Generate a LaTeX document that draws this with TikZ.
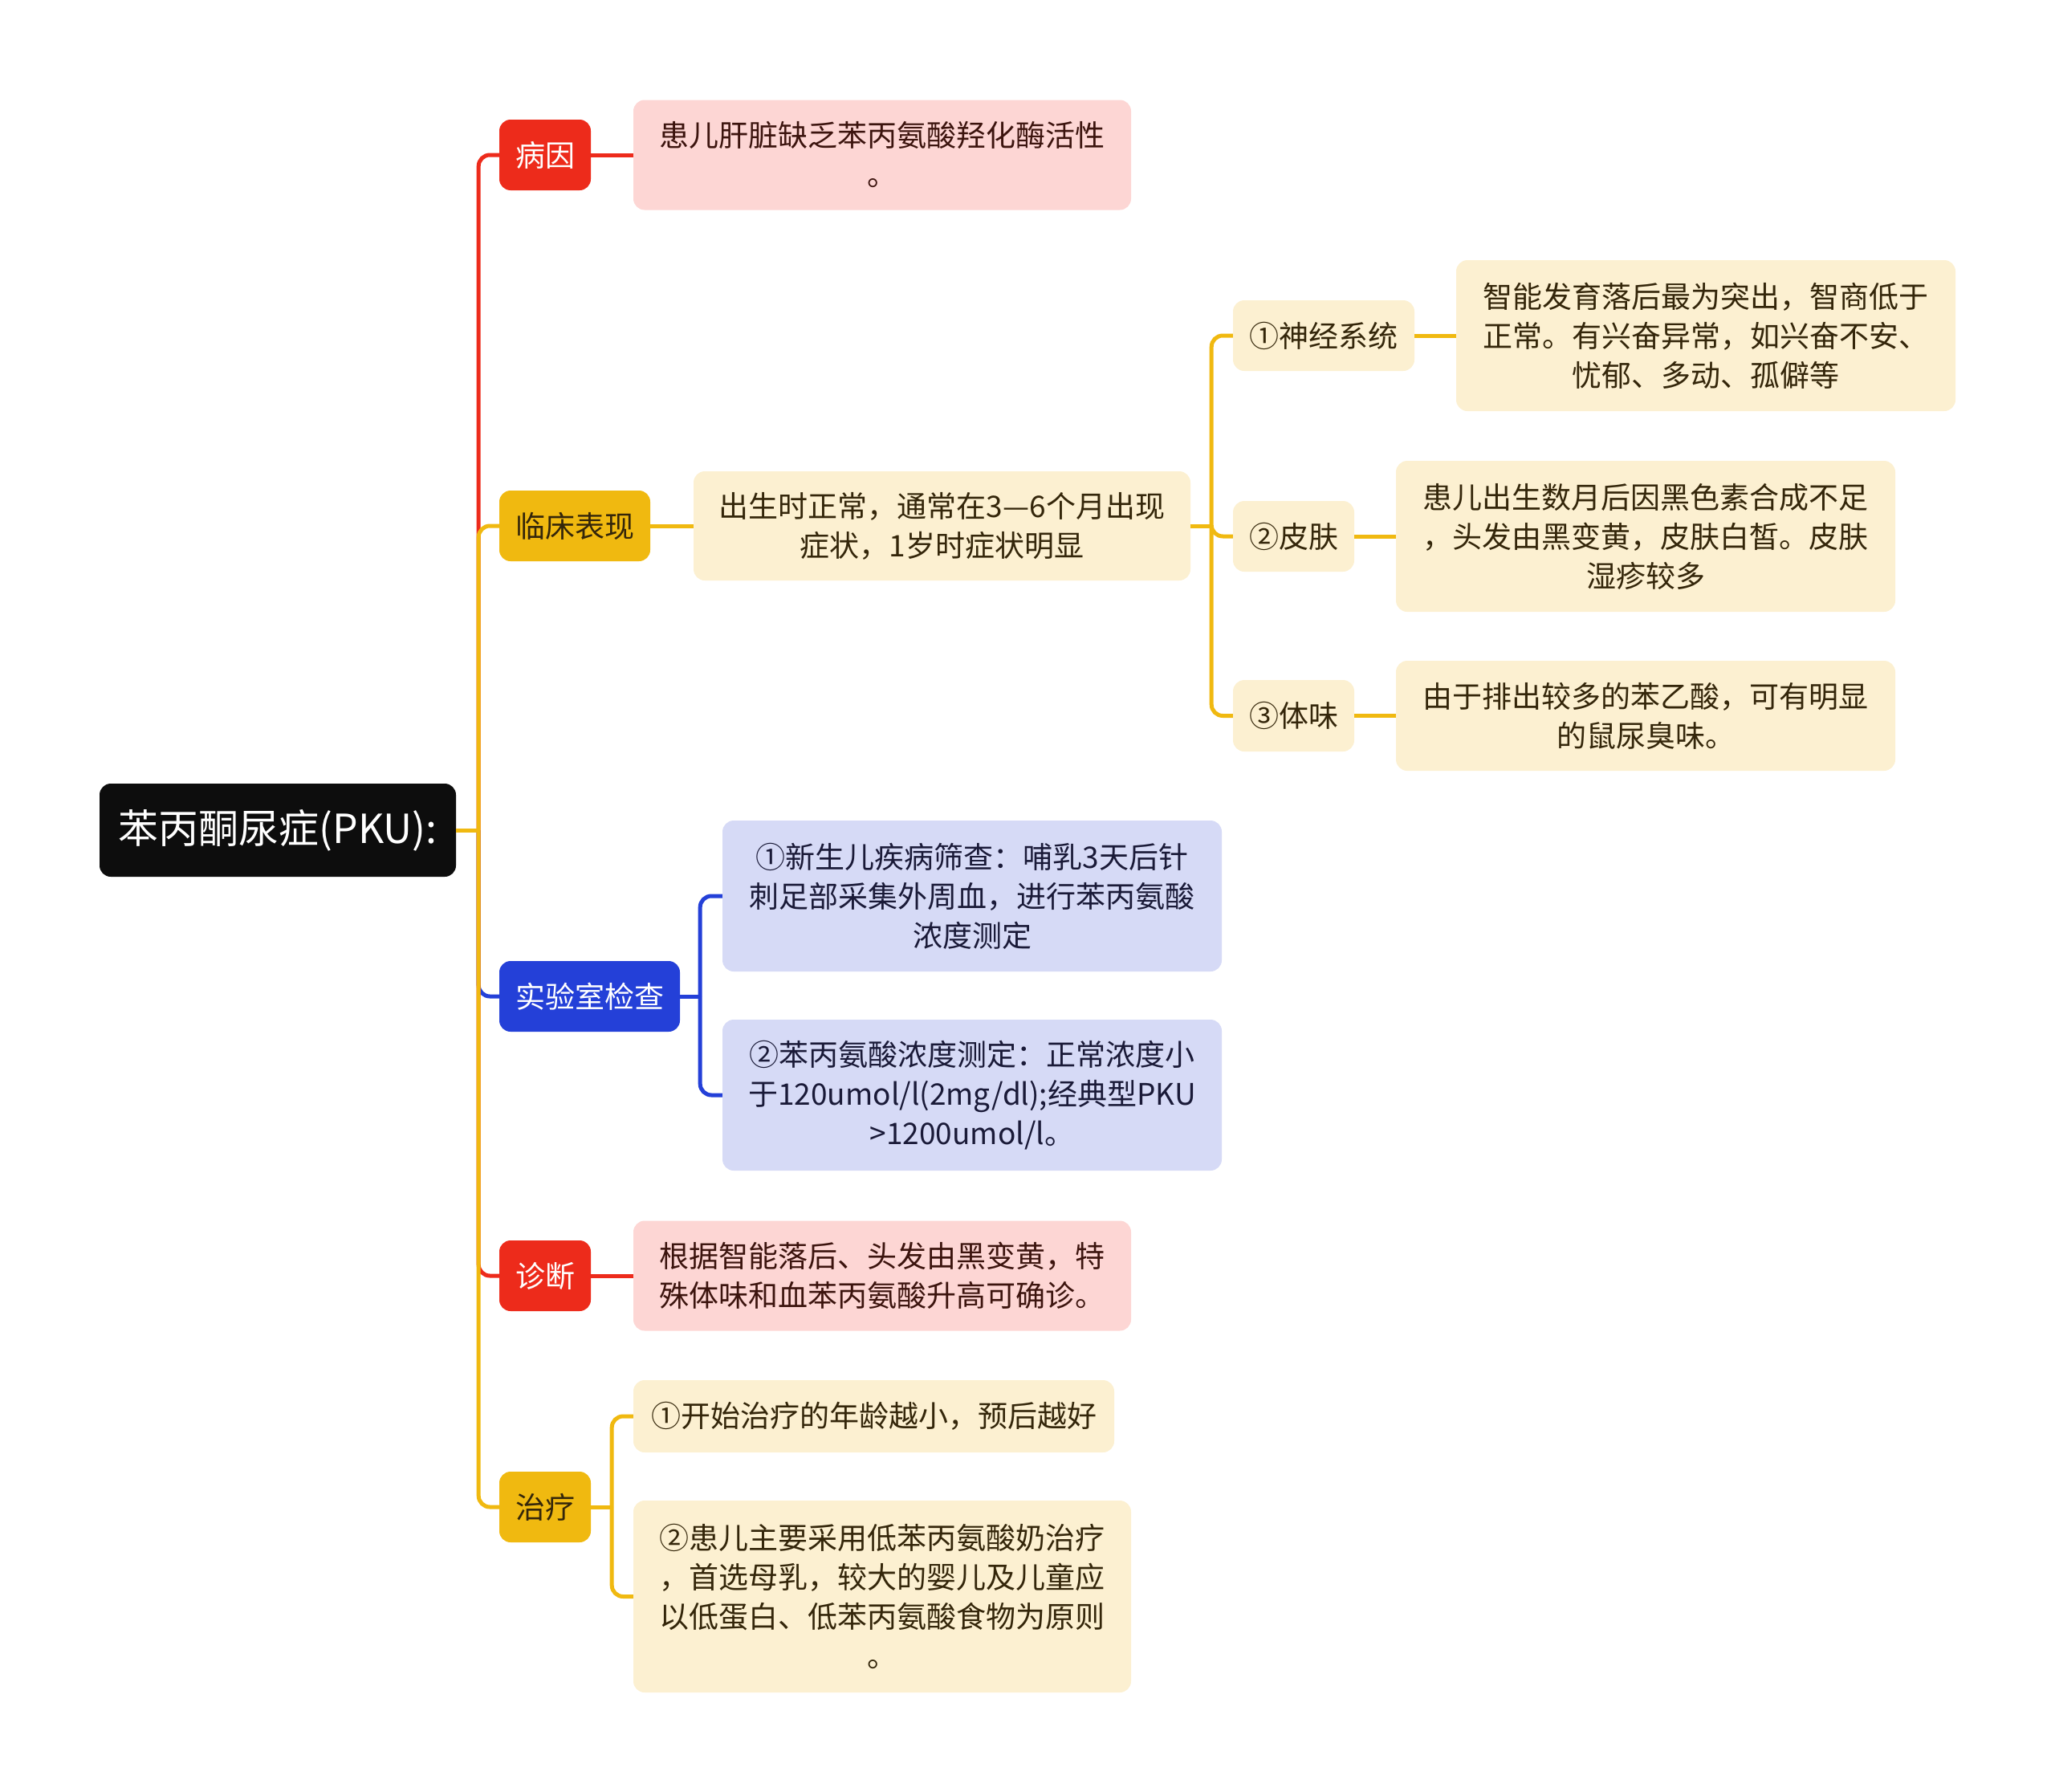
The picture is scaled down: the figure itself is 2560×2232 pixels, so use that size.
\documentclass[tikz,border=0pt]{standalone}
\usepackage{fontspec}
\setmainfont{Noto Sans CJK SC}
\definecolor{mmred}{RGB}{237,43,27}
\definecolor{mmyellow}{RGB}{240,185,16}
\definecolor{mmblue}{RGB}{36,64,216}
\definecolor{pinkfill}{RGB}{253,214,212}
\definecolor{creamfill}{RGB}{252,240,209}
\definecolor{lavfill}{RGB}{214,218,246}
\definecolor{rootblack}{RGB}{13,13,13}
\definecolor{txtbrown}{RGB}{52,38,10}
\definecolor{txtred}{RGB}{60,20,14}
\definecolor{txtnavy}{RGB}{26,26,56}
\begin{document}
\begin{tikzpicture}[x=1pt,y=-1pt,
  base/.style={rounded corners=14pt, inner sep=0pt, align=center, font=\fontsize{37}{49}\selectfont},
  rootbox/.style={base, fill=rootblack, text=white, font=\fontsize{50}{58}\selectfont},
  redone/.style={base, fill=mmred, text=white},
  yelone/.style={base, fill=mmyellow, text=txtbrown},
  bluone/.style={base, fill=mmblue, text=white},
  pinkbox/.style={base, fill=pinkfill, text=txtred},
  creambox/.style={base, fill=creamfill, text=txtbrown},
  lavbox/.style={base, fill=lavfill, text=txtnavy},
  conn/.style={line width=5pt, rounded corners=14pt}]
\useasboundingbox (0,0) rectangle (2560,2232);

% root
\node[rootbox, minimum width=444pt, minimum height=116pt] (root) at (346,1034) {苯丙酮尿症(PKU):};

% level 1
\node[redone, minimum width=114pt, minimum height=88pt] (bingyin) at (679,193) {病因};
\node[yelone, minimum width=188pt, minimum height=88pt] (linchuang) at (716,655) {临床表现};
\node[bluone, minimum width=225pt, minimum height=88pt] (shiyan) at (734.5,1241) {实验室检查};
\node[redone, minimum width=114pt, minimum height=88pt] (zhenduan) at (679,1589) {诊断};
\node[yelone, minimum width=114pt, minimum height=88pt] (zhiliao) at (679,1877) {治疗};

% level 2
\node[pinkbox, minimum width=620pt, minimum height=137pt] (byc) at (1099,193) {患儿肝脏缺乏苯丙氨酸羟化酶活性\\。};
\node[creambox, minimum width=619pt, minimum height=136pt] (lcc) at (1173.5,655) {出生时正常，通常在3—6个月出现\\症状，1岁时症状明显};
\node[lavbox, minimum width=622pt, minimum height=188pt] (sy1) at (1211,1116) {①新生儿疾病筛查：哺乳3天后针\\刺足部采集外周血，进行苯丙氨酸\\浓度测定};
\node[lavbox, minimum width=622pt, minimum height=188pt] (sy2) at (1211,1364) {②苯丙氨酸浓度测定：正常浓度小\\于120umol/l(2mg/dl);经典型PKU\\>1200umol/l。};
\node[pinkbox, minimum width=620pt, minimum height=137pt] (zdc) at (1099,1589) {根据智能落后、头发由黑变黄，特\\殊体味和血苯丙氨酸升高可确诊。};
\node[creambox, minimum width=599pt, minimum height=90pt] (zl1) at (1088.5,1764) {①开始治疗的年龄越小，预后越好};
\node[creambox, minimum width=620pt, minimum height=239pt] (zl2) at (1099,1988.5) {②患儿主要采用低苯丙氨酸奶治疗\\，首选母乳，较大的婴儿及儿童应\\以低蛋白、低苯丙氨酸食物为原则\\。};

% level 3
\node[creambox, minimum width=226pt, minimum height=88pt] (shenjing) at (1649,418) {①神经系统};
\node[creambox, minimum width=151pt, minimum height=88pt] (pifu) at (1611.5,668) {②皮肤};
\node[creambox, minimum width=151pt, minimum height=89pt] (tiwei) at (1611.5,891.5) {③体味};

% level 4
\node[creambox, minimum width=622pt, minimum height=188pt] (sjc) at (2125,418) {智能发育落后最为突出，智商低于\\正常。有兴奋异常，如兴奋不安、\\忧郁、多动、孤僻等};
\node[creambox, minimum width=622pt, minimum height=188pt] (pfc) at (2050,668) {患儿出生数月后因黑色素合成不足\\，头发由黑变黄，皮肤白皙。皮肤\\湿疹较多};
\node[creambox, minimum width=622pt, minimum height=137pt] (twc) at (2050,891.5) {由于排出较多的苯乙酸，可有明显\\的鼠尿臭味。};

% junction coordinates
\path (root.east) ++(28,0) coordinate (j0);
\path (lcc.east) ++(26,0) coordinate (j1);
\path (shiyan.east) ++(25,0) coordinate (j2);
\path (zhiliao.east) ++(26,0) coordinate (j3);

% root branches
\draw[conn, mmred] (j0) |- (bingyin.west);
\draw[conn, mmblue] (j0) |- (shiyan.west);
\draw[conn, mmred] (j0) |- (zhenduan.west);
\draw[conn, mmyellow] (j0) |- (linchuang.west);
\draw[conn, mmyellow] (j0) |- (zhiliao.west);
\draw[conn, mmyellow] (root.east) -- (j0);

% level 1 to level 2
\draw[conn, mmred] (bingyin.east) -- (byc.west);
\draw[conn, mmyellow] (linchuang.east) -- (lcc.west);
\draw[conn, mmred] (zhenduan.east) -- (zdc.west);
\draw[conn, mmblue] (shiyan.east) -- (j2);
\draw[conn, mmblue] (j2) |- (sy1.west);
\draw[conn, mmblue] (j2) |- (sy2.west);
\draw[conn, mmyellow] (zhiliao.east) -- (j3);
\draw[conn, mmyellow] (j3) |- (zl1.west);
\draw[conn, mmyellow] (j3) |- (zl2.west);

% clinical sub-branches
\draw[conn, mmyellow] (lcc.east) -- (j1);
\draw[conn, mmyellow] (j1) |- (shenjing.west);
\draw[conn, mmyellow] (j1) |- (pifu.west);
\draw[conn, mmyellow] (j1) |- (tiwei.west);
\draw[conn, mmyellow] (shenjing.east) -- (sjc.west);
\draw[conn, mmyellow] (pifu.east) -- (pfc.west);
\draw[conn, mmyellow] (tiwei.east) -- (twc.west);
\end{tikzpicture}
\end{document}
